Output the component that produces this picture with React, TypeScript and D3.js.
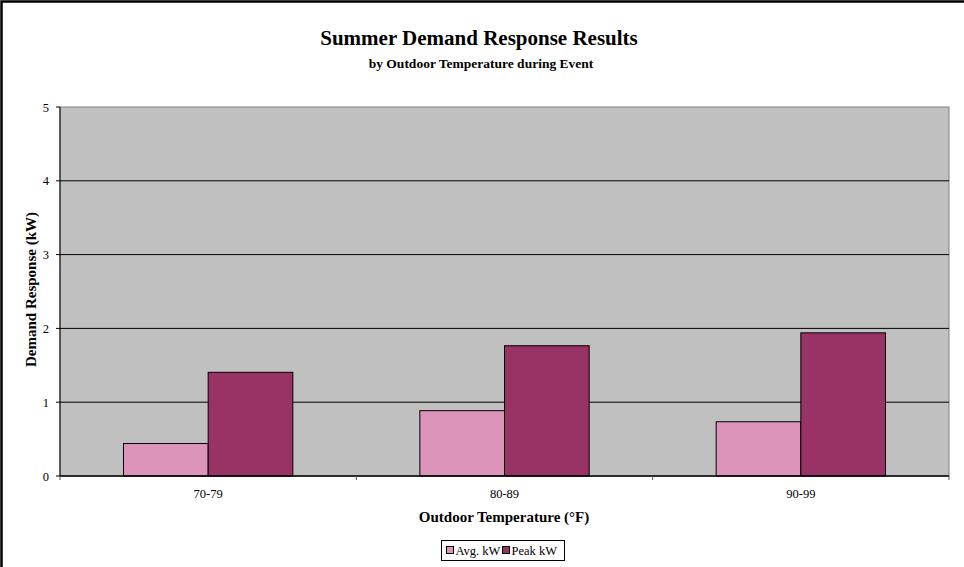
import React from "react";
import * as d3 from "d3";

const categories = ["70-79", "80-89", "90-99"];
const seriesNames = ["Avg. kW", "Peak kW"];
const avgKw = [0.44, 0.885, 0.735];
const peakKw = [1.405, 1.765, 1.94];
const yTicks = [0, 1, 2, 3, 4, 5];
const seriesColors = ["#DD94BA", "#993366"];

const W = 964;
const H = 567;
const plot = { left: 60, top: 107, right: 949, bottom: 476 };
const FONT = "'Liberation Serif', 'Times New Roman', serif";

export default function App() {
  const x0 = d3
    .scaleBand<string>()
    .domain(categories)
    .range([plot.left, plot.right])
    .paddingInner(0)
    .paddingOuter(0);
  // Excel-style gap width of 150%: two bars + 1.5 bar widths per category
  const barW = x0.bandwidth() / 3.5;
  const y = d3.scaleLinear().domain([0, 5]).range([plot.bottom, plot.top]);
  const series = [avgKw, peakKw];

  return (
    <svg
      width={W}
      height={H}
      style={{ position: "absolute", left: 0, top: 0, background: "#fff" }}
      fontFamily={FONT}
    >
      {/* outer chart frame */}
      <rect x={1.5} y={1.5} width={W + 10} height={H + 10} fill="#fff" stroke="#000" strokeWidth={2.5} />

      <text x={479} y={45} textAnchor="middle" fontSize={21} fontWeight="bold">
        Summer Demand Response Results
      </text>
      <text x={481} y={68} textAnchor="middle" fontSize={13.5} fontWeight="bold">
        by Outdoor Temperature during Event
      </text>

      {/* plot area */}
      <rect
        x={plot.left}
        y={plot.top}
        width={plot.right - plot.left}
        height={plot.bottom - plot.top}
        fill="#C0C0C0"
        stroke="#808080"
        strokeWidth={1}
      />

      {/* gridlines */}
      {yTicks
        .filter((t) => t > 0 && t < 5)
        .map((t) => (
          <line key={t} x1={plot.left} x2={plot.right} y1={y(t)} y2={y(t)} stroke="#000" strokeWidth={1} />
        ))}

      {/* bars */}
      {categories.map((c, i) => {
        const start = (x0(c) as number) + (x0.bandwidth() - 2 * barW) / 2;
        return series.map((s, j) => (
          <rect
            key={c + j}
            x={start + j * barW}
            y={y(s[i])}
            width={barW}
            height={y(0) - y(s[i])}
            fill={seriesColors[j]}
            stroke="#000"
            strokeWidth={1}
          />
        ));
      })}

      {/* y axis */}
      <line x1={plot.left} x2={plot.left} y1={plot.top} y2={plot.bottom} stroke="#000" strokeWidth={1} />
      {yTicks.map((t) => (
        <g key={t}>
          <line x1={plot.left - 4} x2={plot.left} y1={y(t)} y2={y(t)} stroke="#000" />
          <text x={49} y={y(t) + 4.5} textAnchor="end" fontSize={12.5}>
            {t}
          </text>
        </g>
      ))}

      {/* x axis */}
      <line x1={plot.left} x2={plot.right} y1={plot.bottom} y2={plot.bottom} stroke="#000" strokeWidth={1.5} />
      {[...categories.map((c) => x0(c) as number), plot.right].map((xv, i) => (
        <line key={i} x1={xv} x2={xv} y1={plot.bottom} y2={plot.bottom + 4} stroke="#555" />
      ))}
      {categories.map((c) => (
        <text key={c} x={(x0(c) as number) + x0.bandwidth() / 2} y={498} textAnchor="middle" fontSize={12.5}>
          {c}
        </text>
      ))}

      <text x={504} y={522} textAnchor="middle" fontSize={15} fontWeight="bold">
        Outdoor Temperature (°F)
      </text>
      <text
        transform={`translate(36, ${(plot.top + plot.bottom) / 2 - 2}) rotate(-90)`}
        textAnchor="middle"
        fontSize={15}
        fontWeight="bold"
      >
        Demand Response (kW)
      </text>

      {/* legend */}
      <rect x={441.5} y={540.5} width={123} height={20} fill="#fff" stroke="#000" strokeWidth={1} />
      {seriesNames.map((n, j) => {
        const lx = 446 + j * 56;
        return (
          <g key={n}>
            <rect x={lx + 0.5} y={546.5} width={7} height={7} fill={seriesColors[j]} stroke="#000" />
            <text x={lx + 9.5} y={555} fontSize={12.5}>
              {n}
            </text>
          </g>
        );
      })}
    </svg>
  );
}
